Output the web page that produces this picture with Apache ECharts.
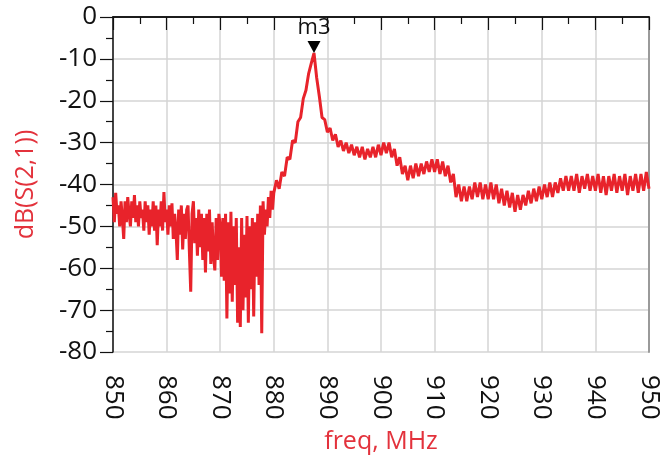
<!DOCTYPE html>
<html>
<head>
	<meta charset="UTF-8">
	<title>dB(S(2,1))</title>
	<script src="https://cdn.jsdelivr.net/npm/echarts@6/dist/echarts.min.js"></script>
	<style>
		html, body { margin: 0; padding: 0; background: #fff; }
		#chart { width: 662px; height: 460px; }
	</style>
</head>
<body>
<div id="chart"></div>
<script type="text/javascript">
	// 850 - 880 MHz, dense sweep (noisy floor)
	var freqLow = [
		850, 850.25, 850.5, 850.75, 851, 851.25, 851.5, 851.75, 852, 852.25, 852.5, 852.75,
		853, 853.25, 853.5, 853.75, 854, 854.25, 854.5, 854.75, 855, 855.25, 855.5, 855.75,
		856, 856.25, 856.5, 856.75, 857, 857.25, 857.5, 857.75, 858, 858.25, 858.5, 858.75,
		859, 859.25, 859.5, 859.75, 860, 860.25, 860.5, 860.75, 861, 861.25, 861.5, 861.75,
		862, 862.25, 862.5, 862.75, 863, 863.25, 863.5, 863.75, 864, 864.25, 864.5, 864.75,
		865, 865.25, 865.5, 865.75, 866, 866.25, 866.5, 866.75, 867, 867.25, 867.5, 867.75,
		868, 868.25, 868.5, 868.75, 869, 869.25, 869.5, 869.75, 870, 870.25, 870.5, 870.75,
		871, 871.25, 871.5, 871.75, 872, 872.25, 872.5, 872.75, 873, 873.25, 873.5, 873.75,
		874, 874.25, 874.5, 874.75, 875, 875.25, 875.5, 875.75, 876, 876.25, 876.5, 876.75,
		877, 877.25, 877.5, 877.75, 878, 878.25, 878.5, 878.75, 879, 879.25, 879.5, 879.75
	];
	var s21Low = [
		-43, -49, -42, -47, -45, -50, -44, -48, -53, -44, -49, -43,
		-47, -50, -44, -48, -42.5, -49, -45, -50, -44, -48, -46, -51,
		-44, -49, -45, -52, -46, -50, -44, -51, -45, -54.5, -46, -50,
		-44, -51, -41.8, -49, -46, -52, -45, -50, -44.5, -53, -47, -51,
		-58, -46, -52, -45, -55.5, -47, -53, -46, -45, -56, -65.6, -47,
		-44, -54, -48, -57, -46, -55, -47, -58, -48, -61, -47, -56,
		-46, -59, -49, -57, -60.5, -48, -58, -47, -50, -62, -48, -63,
		-47, -72, -49, -66, -46.5, -68, -50, -64, -48, -73, -55, -74,
		-48, -70, -52, -67, -47.5, -73, -50, -65, -48, -71.5, -49, -62,
		-47, -64, -45, -75.5, -44, -52, -46, -50, -43, -48, -41.5, -46
	];
	// 880 - 950 MHz
	var freqHigh = [
		880, 880.5, 881, 881.5, 882, 882.5, 883, 883.5, 884, 884.5,
		885, 885.5, 886, 886.5, 887, 887.5, 888, 888.5, 889, 889.5,
		890, 890.5, 891, 891.5, 892, 892.5, 893, 893.5, 894, 894.5,
		895, 895.5, 896, 896.5, 897, 897.5, 898, 898.5, 899, 899.5,
		900, 900.5, 901, 901.5, 902, 902.5, 903, 903.5, 904, 904.5,
		905, 905.5, 906, 906.5, 907, 907.5, 908, 908.5, 909, 909.5,
		910, 910.5, 911, 911.5, 912, 912.5, 913, 913.5, 914, 914.5,
		915, 915.5, 916, 916.5, 917, 917.5, 918, 918.5, 919, 919.5,
		920, 920.5, 921, 921.5, 922, 922.5, 923, 923.5, 924, 924.5,
		925, 925.5, 926, 926.5, 927, 927.5, 928, 928.5, 929, 929.5,
		930, 930.5, 931, 931.5, 932, 932.5, 933, 933.5, 934, 934.5,
		935, 935.5, 936, 936.5, 937, 937.5, 938, 938.5, 939, 939.5,
		940, 940.5, 941, 941.5, 942, 942.5, 943, 943.5, 944, 944.5,
		945, 945.5, 946, 946.5, 947, 947.5, 948, 948.5, 949, 949.5, 950
	];
	var s21High = [
		-42, -39, -41, -37, -38, -33.5, -34, -29.5, -30, -25,
		-24, -19.5, -17.5, -13.5, -11, -8.6, -14.5, -19, -24, -24.5,
		-27.5, -26.5, -29.5, -28, -31, -29.5, -32, -30, -32.5, -30.5,
		-33, -31, -33.5, -31, -34, -31.5, -33.5, -31, -33.5, -30.5,
		-33, -30, -32.5, -30, -33.5, -31.5, -35.5, -33.5, -37.5, -35.5,
		-39, -35.5, -38.5, -35, -38, -35, -37.5, -34.5, -37, -34,
		-37, -34, -37.5, -34.5, -38, -35.5, -39.5, -37.5, -43, -40,
		-44, -40.5, -44, -40.5, -43.5, -39.5, -43, -39.5, -43.5, -40,
		-43.5, -39.5, -43.5, -40, -44.5, -41, -45, -41.5, -45.5, -42,
		-46.5, -42.5, -46, -42.5, -45, -41.5, -44.5, -41, -44, -40.5,
		-43.5, -40, -43, -39.5, -43, -39.5, -42, -38.5, -41.5, -38,
		-41.5, -38, -41.5, -37.5, -42, -38, -41, -37.5, -41.5, -38,
		-41.5, -37.5, -42, -38, -42.5, -38, -41.5, -37.5, -42, -38,
		-41.5, -37.5, -42.5, -38, -41.5, -37.5, -42, -37.5, -41.5, -37, -41
	];
	var xTicks = [850, 950, 10];
	var yTicks = [-80, 0, 10];
	var markerFreq = 887.5;
	var markerDb = -8.6;
	var markerName = 'm3';

	var trace = [];
	for (var i = 0; i < freqLow.length; i++) trace.push([freqLow[i], s21Low[i]]);
	for (var j = 0; j < freqHigh.length; j++) trace.push([freqHigh[j], s21High[j]]);

	var font = 'Open Sans';
	var myChart = echarts.init(document.getElementById('chart'));

	var option = {
		animation: false,
		backgroundColor: '#fff',
		grid: { left: 113, right: 13, top: 17, bottom: 108, outerBoundsMode: 'none', containLabel: false },
		xAxis: [
			{
				type: 'value',
				min: xTicks[0], max: xTicks[1], interval: xTicks[2],
				name: 'freq, MHz',
				nameLocation: 'middle',
				nameGap: 77,
				nameTextStyle: { color: '#e3323c', fontSize: 25, fontFamily: font },
				axisLine: { lineStyle: { color: '#111', width: 1.5 } },
				axisTick: { show: true, length: 13, lineStyle: { color: '#111', width: 1.2 } },
				minorTick: { show: true, splitNumber: 2, length: 7, lineStyle: { color: '#111', width: 1.2 } },
				axisLabel: { rotate: -90, margin: 23, fontSize: 26, color: '#111', fontFamily: font },
				splitLine: { show: true, lineStyle: { color: '#d4d4d4', width: 1.5 } }
			},
			{
				type: 'value', position: 'top',
				min: xTicks[0], max: xTicks[1],
				axisLine: { show: true, onZero: false, lineStyle: { color: '#111', width: 1.5 } },
				axisTick: { show: false }, axisLabel: { show: false }, splitLine: { show: false }
			}
		],
		yAxis: [
			{
				type: 'value',
				min: yTicks[0], max: yTicks[1], interval: yTicks[2],
				name: 'dB(S(2,1))',
				nameLocation: 'middle',
				nameGap: 75,
				nameTextStyle: { color: '#e3323c', fontSize: 25, fontFamily: font },
				axisLine: { show: true, onZero: false, lineStyle: { color: '#111', width: 1.5 } },
				axisTick: { show: true, length: 13, lineStyle: { color: '#111', width: 1.2 } },
				minorTick: { show: true, splitNumber: 2, length: 7, lineStyle: { color: '#111', width: 1.2 } },
				axisLabel: { margin: 16, fontSize: 26, color: '#111', fontFamily: font },
				splitLine: { show: true, lineStyle: { color: '#d4d4d4', width: 1.5 } }
			},
			{
				type: 'value', position: 'right',
				min: yTicks[0], max: yTicks[1],
				axisLine: { show: true, onZero: false, lineStyle: { color: '#9a9a9a', width: 2 } },
				axisTick: { show: false }, axisLabel: { show: false }, splitLine: { show: false }
			}
		],
		series: [
			{
				name: 'dB(S(2,1))',
				type: 'line',
				data: trace,
				showSymbol: false,
				sampling: 'none',
				lineStyle: { color: '#e8232b', width: 3 },
				itemStyle: { color: '#e8232b' },
				markPoint: {
					symbol: 'triangle',
					symbolRotate: 180,
					symbolSize: [13, 12],
					symbolOffset: [0, -6],
					itemStyle: { color: '#000' },
					label: {
						show: true, position: 'top', distance: 2,
						formatter: markerName, color: '#111', fontSize: 22, fontFamily: font
					},
					data: [{ coord: [markerFreq, markerDb] }]
				}
			}
		]
	};

	myChart.setOption(option);
</script>
</body>
</html>
